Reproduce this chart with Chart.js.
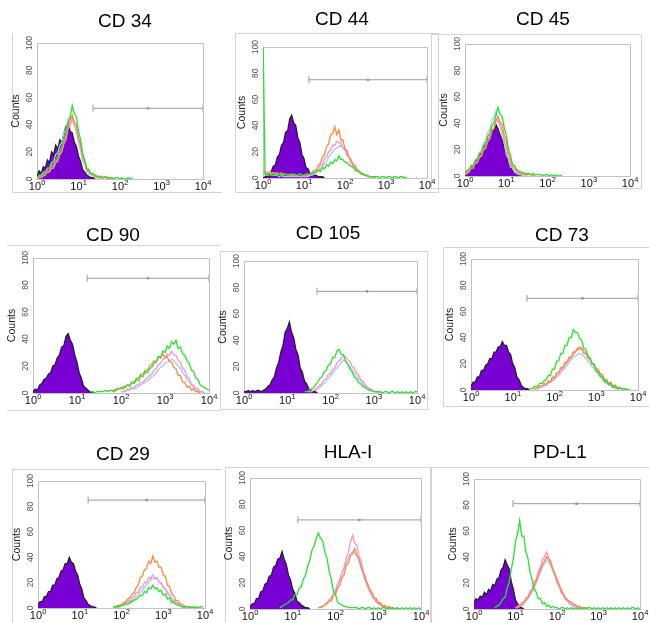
<!DOCTYPE html>
<html>
<head>
<meta charset="utf-8">
<script src="https://cdn.jsdelivr.net/npm/chart.js@4.4.1/dist/chart.umd.min.js"></script>
<style>
  html, body { margin:0; padding:0; background:#fff; }
  #wrap { position:relative; width:649px; height:623px; overflow:hidden; background:#fff; }
  canvas.c { position:absolute; left:0; top:0; }
  .f { position:absolute; border:0 solid #d4d4d4; box-sizing:border-box; }
</style>
</head>
<body>
<div id="wrap">
  <div class="f" style="left:12px;top:33px;width:210px;height:160px;border-left-width:1px;border-bottom-width:1px"></div>
  <div class="f" style="left:235px;top:33px;width:204px;height:160px;border-width:1px"></div>
  <div class="f" style="left:431px;top:34px;width:211px;height:155px;border-width:1px"></div>
  <div class="f" style="left:7px;top:245px;width:213px;height:166px;border-top-width:1px;border-bottom-width:1px"></div>
  <div class="f" style="left:220px;top:251px;width:208px;height:159px;border-width:1px"></div>
  <div class="f" style="left:443px;top:247px;width:210px;height:160px;border-left-width:1px;border-top-width:1px;border-bottom-width:1px"></div>
  <div class="f" style="left:12px;top:469px;width:210px;height:170px;border-left-width:1px;border-top-width:1px"></div>
  <div class="f" style="left:225px;top:467px;width:206px;height:170px;border-left-width:1px;border-top-width:1px;border-right-width:1px"></div>
  <div class="f" style="left:431px;top:467px;width:230px;height:170px;border-left-width:1px;border-top-width:1px"></div>
</div>
<script>
// ---------- shared axes ----------
const BINS = [0,0.05,0.1,0.15,0.2,0.25,0.3,0.35,0.4,0.45,0.5,0.55,0.6,0.65,0.7,0.75,0.8,0.85,0.9,0.95,
  1,1.05,1.1,1.15,1.2,1.25,1.3,1.35,1.4,1.45,1.5,1.55,1.6,1.65,1.7,1.75,1.8,1.85,1.9,1.95,
  2,2.05,2.1,2.15,2.2,2.25,2.3,2.35,2.4,2.45,2.5,2.55,2.6,2.65,2.7,2.75,2.8,2.85,2.9,2.95,
  3,3.05,3.1,3.15,3.2,3.25,3.3,3.35,3.4,3.45,3.5,3.55,3.6,3.65,3.7,3.75,3.8,3.85,3.9,3.95,4];
const X_DECADES = [0,1,2,3,4];
const Y_TICKS = [0,20,40,60,80,100];
const TITLES = ['CD 34','CD 44','CD 45','CD 90','CD 105','CD 73','CD 29','HLA-I','PD-L1'];

// ---------- counts per channel (log10 bins of 0.05) ----------
// CD 34
const cd34_iso    = [2,6,4,9,8,14,12,20,18,25,22,29,27,34,39,41,35,34,27,24,17,13,7,5,3,2,1,1,0];
const cd34_green  = [1,3,2,4,5,7,8,10,11,14,17,21,24,30,35,42,46,54,48,46,35,29,19,14,8,7,4,4,3,2,2,2,1,2,1,1,1,0,1,1,0,1,0,0,1,0,1];
const cd34_orange = [0,1,2,3,4,6,6,9,10,13,14,19,21,28,32,39,43,47,42,40,30,26,17,13,7,6,4,3,2,2,1,1,1,1,0,1,0,1];
const cd34_pink   = [0,1,1,2,3,5,5,8,8,12,13,18,20,26,29,37,39,44,40,37,29,24,15,12,6,5,4,3,2,1,1,1,0];
const cd34_blue   = [1,2,3,5,5,8,8,12,13,18,19,25,27,34,37,44,45,45,39,35,26,21,13,10,5,4,3,2,1,1,0];
const cd34_gate   = [1.35, 52];
// CD 44
const cd44_iso    = [0,1,2,1,5,9,10,16,18,25,27,35,36,45,48,42,40,31,27,18,15,8,7,3,4,2,2,1,1,1,0];
const cd44_green  = [110,3,2,3,2,2,3,2,3,2,2,3,2,2,3,2,2,2,3,2,2,3,3,3,4,4,5,6,5,8,7,10,9,12,11,14,13,17,14,14,12,12,10,9,8,6,5,5,3,3,2,2,1,1,1,1,1,0,1,1,0,1,1,0,1,1,0,1,1,0,1];
const cd44_orange = [5,4,3,4,3,3,4,3,3,4,3,3,2,3,2,3,2,2,3,2,2,2,3,3,4,6,6,10,11,16,18,24,26,33,34,39,33,37,29,29,22,21,15,14,9,9,5,5,3,3,2,2,1,1,1,0];
const cd44_pink   = [6,5,4,5,4,4,3,4,3,3,2,3,2,2,2,2,1,2,1,1,2,1,2,2,3,4,6,6,10,10,15,16,20,21,25,25,28,27,27,23,22,17,16,11,11,7,7,4,4,2,2,1,1,1,0];
const cd44_blue   = [3,3,2,3,2,2,2,2,1,2,1,1,1,1,1,1,1,1,1,1,1,1,1,2,2,3,4,5,7,9,11,13,16,18,20,22,23,24,25,23,21,19,16,13,11,9,7,5,4,3,2,1,1,0];
const cd44_gate   = [1.12, 75];
// CD 45
const cd45_iso    = [1,4,3,7,8,11,12,16,17,22,23,28,29,35,34,39,36,31,28,21,17,10,8,4,3,2,1,1,0];
const cd45_green  = [2,4,5,8,8,12,13,17,18,23,25,30,32,38,40,46,52,47,45,37,31,21,16,9,8,5,4,3,3,2,2,2,1,2,1,1,1,1,0,1,1,0,1,0,1,0,0,1];
const cd45_orange = [1,3,4,6,7,10,11,15,16,21,22,27,29,34,36,42,45,41,39,31,26,17,13,7,7,4,3,2,2,1,1,1,1,0,1];
const cd45_pink   = [1,2,3,6,6,10,10,14,15,20,21,26,28,34,36,41,42,38,35,27,22,14,11,6,5,3,2,2,1,1,0];
const cd45_blue   = [2,3,5,8,8,12,13,18,19,25,27,33,35,42,45,49,43,39,30,25,16,13,7,6,3,2,1,1,0];
// CD 90
const cd90_iso    = [1,3,2,6,7,10,11,14,15,20,21,26,28,34,35,42,44,39,36,28,23,15,11,5,4,2,1,1,0];
const cd90_green  = [1,1,0,1,1,1,1,2,1,2,2,2,3,3,4,3,5,6,5,8,7,10,9,13,12,16,15,18,19,22,23,27,26,31,30,35,33,38,36,39,33,34,29,28,24,22,17,16,11,10,6,5,4,3,2];
const cd90_orange = [1,1,2,3,3,5,4,6,6,8,8,11,11,14,14,17,17,20,21,24,23,27,26,29,26,27,23,23,19,18,13,13,8,8,4,5,2,3,1,1,0];
const cd90_pink   = [1,1,2,3,3,4,4,6,6,8,8,10,11,13,14,17,18,21,22,25,26,29,28,31,28,28,24,23,18,17,12,11,6,6,3,3,1,1,0];
const cd90_blue   = [1,1,1,2,2,3,3,4,5,6,7,8,9,10,12,13,15,17,19,20,22,23,24,25,24,22,20,18,15,13,10,8,6,4,3,2,1,1,0];
const cd90_gate   = [1.23, 85];
// CD 105
const cd105_iso   = [1,1,2,1,2,1,2,2,1,2,3,5,6,10,12,19,23,31,36,46,49,54,46,42,33,29,19,16,9,7,3,2,1,1,0];
const cd105_green = [1,1,2,3,4,6,8,11,12,16,17,21,22,27,27,32,33,29,29,24,22,18,16,12,11,8,7,5,4,3,2,2,1,1,1,1,0,1,1,0,1,1,0,1,0,1,0,1,0,1,0,1,1];
const cd105_pink  = [1,1,2,3,4,6,7,10,11,14,15,18,19,23,24,27,28,28,25,24,20,19,15,14,10,9,6,5,3,3,1,1,1,0];
const cd105_blue  = [1,1,2,2,3,4,6,7,9,11,13,15,17,19,21,23,25,24,22,20,18,15,13,11,9,7,5,4,3,2,1,1,0];
const cd105_gate  = [1.69, 77];
// CD 73
const cd73_iso    = [3,6,6,10,10,15,15,19,20,24,24,29,29,33,33,37,34,34,29,27,20,17,10,8,4,2,1,1,0];
const cd73_green  = [1,1,2,3,3,5,5,7,8,11,11,16,16,22,22,28,28,34,34,40,40,46,44,44,39,38,32,31,26,25,20,19,14,14,10,10,6,7,4,5,2,3,1,2,1,1,1,0,1];
const cd73_orange = [1,1,2,3,3,5,4,7,6,10,9,13,13,17,17,21,21,25,25,29,29,32,31,32,28,28,24,24,20,20,16,16,12,12,8,8,5,6,3,4,2,2,1,1,0];
const cd73_pink   = [1,1,1,2,3,3,4,5,6,8,9,11,13,15,17,19,21,23,25,27,29,31,33,32,30,28,26,23,21,19,16,14,12,10,8,6,5,4,3,2,2,1,1,0];
const cd73_blue   = [1,1,1,2,2,3,4,5,6,7,8,10,11,13,15,17,19,21,23,25,26,27,28,27,26,24,22,20,18,16,14,12,10,8,6,5,4,3,2,1,1,0];
const cd73_gate   = [1.34, 70];
// CD 29
const cd29_iso    = [3,5,5,9,9,13,13,18,18,23,24,29,30,35,35,40,36,35,29,26,19,15,8,6,3,2,1,1,0];
const cd29_orange = [1,1,2,2,3,4,5,7,8,11,12,16,18,24,25,30,31,37,35,41,36,37,32,32,26,25,18,17,11,10,6,6,3,3,2,1,1,1,0,1,0];
const cd29_pink   = [1,1,1,2,2,3,4,6,5,8,9,12,12,16,16,20,20,24,23,26,23,24,20,20,16,15,11,10,6,6,3,4,2,1,1,0];
const cd29_green  = [1,1,1,1,2,2,3,3,4,5,6,7,8,10,10,13,12,16,15,18,15,16,13,14,10,11,7,8,4,5,3,2,2,1,1,1,1,0,1,0,1,0,1,1];
const cd29_blue   = [1,1,1,2,2,3,3,4,5,6,7,9,10,12,14,16,18,20,22,23,24,23,21,19,17,15,13,10,8,6,5,3,2,1,1,0];
const cd29_gate   = [1.2, 85];
// HLA-I
const hla_iso     = [2,4,4,8,8,13,14,19,20,25,26,32,33,38,39,44,38,34,26,22,15,12,6,5,3,2,1,1,0];
const hla_green   = [1,2,3,4,5,7,7,11,11,16,17,23,26,33,37,45,48,54,58,54,52,44,39,29,23,14,11,5,4,3,2,2,1,1,1,1,1,0,1,1,0,1,1,0,1,0,1,0,1,1,0,1,0,1,0,1,0,1,0,1,0,1,0,1,0,1,0];
const hla_pink    = [1,1,2,3,4,7,7,12,13,19,21,28,31,39,43,51,56,50,49,40,37,28,25,17,16,10,9,5,5,3,2,2,1,1,1,0];
const hla_orange  = [1,1,2,3,4,6,6,10,11,16,18,24,26,33,35,41,42,46,41,39,32,29,22,20,14,13,8,8,4,5,2,3,1,2,1,1,0,1];
const hla_blue    = [1,2,2,3,5,7,9,12,15,19,23,27,31,35,39,42,44,43,40,36,31,26,21,17,13,10,8,6,4,3,2,1,1,0];
const hla_gate    = [1.12, 68];
// PD-L1
const pdl1_iso    = [5,8,7,10,9,13,11,15,14,19,18,23,24,30,32,38,34,31,21,15,7,4,2,1,0];
const pdl1_green  = [1,2,3,5,8,9,16,21,31,39,52,58,68,56,56,44,39,28,23,15,13,8,8,4,5,2,3,1,2,1,1,0,1,1,0,1,0,1,0,1,0,1,0,1,0,1,1,0,1,0,1,0,1,0,1,0,1,0,1,0,1,0,1,0,1,0,1,1,0,1,0];
const pdl1_pink   = [1,2,3,5,5,9,9,14,15,21,23,29,32,38,40,44,39,37,30,27,20,18,12,11,7,7,4,5,2,3,1,1,0];
const pdl1_orange = [1,1,2,3,5,7,9,12,15,18,22,26,30,34,37,40,38,35,31,27,23,19,15,12,9,7,6,5,4,3,2,2,1,1,1,0];
const pdl1_blue   = [1,1,2,3,4,6,8,10,13,16,20,24,28,32,35,37,36,33,29,25,21,17,14,11,8,6,4,3,2,1,1,0];
const pdl1_gate   = [0.94, 81];

// ---------- panel assembly: [values, first bin] ----------
const PANELS = [
  { iso:[cd34_iso,0],  green:[cd34_green,0],  orange:[cd34_orange,0],  pink:[cd34_pink,0],  blue:[cd34_blue,0],  gate:cd34_gate },
  { iso:[cd44_iso,0],  green:[cd44_green,0],  orange:[cd44_orange,0],  pink:[cd44_pink,0],  blue:[cd44_blue,0],  gate:cd44_gate },
  { iso:[cd45_iso,0],  green:[cd45_green,0],  orange:[cd45_orange,0],  pink:[cd45_pink,0],  blue:[cd45_blue,0],  gate:null },
  { iso:[cd90_iso,0],  green:[cd90_green,26], orange:[cd90_orange,36], pink:[cd90_pink,40], blue:[cd90_blue,40], gate:cd90_gate },
  { iso:[cd105_iso,0], green:[cd105_green,28], orange:null,            pink:[cd105_pink,30], blue:[cd105_blue,30], gate:cd105_gate },
  { iso:[cd73_iso,0],  green:[cd73_green,28], orange:[cd73_orange,30], pink:[cd73_pink,30], blue:[cd73_blue,30], gate:cd73_gate },
  { iso:[cd29_iso,0],  green:[cd29_green,36], orange:[cd29_orange,36], pink:[cd29_pink,36], blue:[cd29_blue,36], gate:cd29_gate },
  { iso:[hla_iso,0],   green:[hla_green,14],  orange:[hla_orange,32],  pink:[hla_pink,32],  blue:[hla_blue,32],  gate:hla_gate },
  { iso:[pdl1_iso,0],  green:[pdl1_green,10], orange:[pdl1_orange,20], pink:[pdl1_pink,20], blue:[pdl1_blue,20], gate:pdl1_gate }
];

// ---------- layout (page pixels): plot box l,t,r,b and title centre ----------
const LAYOUT = [
  { box:[37,43,203,179],  title:[125,22] },
  { box:[263,47,427,178], title:[342,20] },
  { box:[465,44,630,176], title:[543,20] },
  { box:[33,258,209,393], title:[113,236] },
  { box:[244,261,417,393],title:[328,234] },
  { box:[471,259,638,390],title:[562,236] },
  { box:[38,481,205,608], title:[123,455] },
  { box:[250,478,421,609],title:[348,453] },
  { box:[474,479,640,609],title:[560,453] }
];

const W = 649, H = 623, YW = 30, XH = 20;
const COL = { iso:'#7800d2', isoEdge:'rgba(25,25,25,0.95)', green:'#22e62a', orange:'#ff8a3c', pink:'#ff8fd2', blue:'#a9c8ee', gate:'#9a9a9a', box:'#c2c2c2' };
const FONT = '"Liberation Sans", Arial, Helvetica, sans-serif';

function pts(s){ return s[0].map((v,i)=>({x:BINS[s[1]+i], y:v})); }

const decor = {
  id:'decor',
  afterDraw(chart){
    const {ctx, chartArea:a, scales:{x,y}} = chart;
    const idx = chart.options.plugins.decor.idx;
    ctx.save();
    ctx.strokeStyle = COL.box; ctx.lineWidth = 1;
    ctx.beginPath();
    ctx.moveTo(Math.round(a.left)+0.5, Math.round(a.top)+0.5);
    ctx.lineTo(Math.round(a.right)+0.5, Math.round(a.top)+0.5);
    ctx.lineTo(Math.round(a.right)+0.5, Math.round(a.bottom)+0.5);
    ctx.stroke();
    ctx.fillStyle = '#000'; ctx.font = '19px ' + FONT;
    ctx.textAlign = 'center'; ctx.textBaseline = 'middle';
    const t = LAYOUT[idx].title;
    ctx.fillText(TITLES[idx], t[0], t[1]);
    ctx.fillStyle = '#555'; ctx.font = '8.5px ' + FONT;
    Y_TICKS.forEach(v=>{
      const py = y.getPixelForValue(v);
      ctx.save(); ctx.translate(a.left - 7, py); ctx.rotate(-Math.PI/2);
      ctx.textAlign='center'; ctx.textBaseline='middle';
      ctx.fillText(String(v), 0, 0); ctx.restore();
    });
    ctx.save(); ctx.translate(a.left - 21, (a.top + a.bottom)/2); ctx.rotate(-Math.PI/2);
    ctx.fillStyle = '#222'; ctx.font = '10.5px ' + FONT; ctx.textAlign='center'; ctx.textBaseline='middle';
    ctx.fillText('Counts', 0, 0); ctx.restore();
    ctx.fillStyle = '#111'; ctx.textBaseline = 'alphabetic'; ctx.textAlign = 'left';
    X_DECADES.forEach(d=>{
      const px = x.getPixelForValue(d);
      ctx.font = '11px ' + FONT; const w1 = ctx.measureText('10').width;
      ctx.font = '7.5px ' + FONT;  const w2 = ctx.measureText(String(d)).width;
      const x0 = px - (w1 + w2)/2;
      ctx.font = '11px ' + FONT; ctx.fillText('10', x0, a.bottom + 11);
      ctx.font = '7.5px ' + FONT;  ctx.fillText(String(d), x0 + w1 + 0.3, a.bottom + 6);
    });
    ctx.restore();
  }
};

const wrap = document.getElementById('wrap');
PANELS.forEach((p, i)=>{
  const cv = document.createElement('canvas');
  cv.className = 'c'; cv.width = W; cv.height = H;
  cv.style.width = W + 'px'; cv.style.height = H + 'px';
  wrap.appendChild(cv);
  const b = LAYOUT[i].box;
  const ds = [];
  if (p.gate) {
    const g0 = p.gate[0], gy = p.gate[1];
    ds.push({ data:[{x:g0,y:gy},{x:(g0+4)/2,y:gy},{x:4,y:gy}], borderColor:COL.gate, borderWidth:1,
      pointStyle:['line','rect','line'], pointRotation:[90,0,90], pointRadius:[3.5,1.2,3.5],
      pointBorderColor:COL.gate, pointBackgroundColor:COL.gate, pointBorderWidth:1, fill:false, clip:false });
  }
  const line = (s, c) => ({ data:pts(s), borderColor:c, borderWidth:1.3, pointRadius:0, fill:false, tension:0 });
  ds.push(line(p.green, COL.green));
  if (p.orange) ds.push(line(p.orange, COL.orange));
  ds.push(line(p.pink, COL.pink));
  ds.push(line(p.blue, COL.blue));
  ds.push({ data:pts(p.iso), borderColor:COL.isoEdge, borderWidth:1.2, backgroundColor:COL.iso, pointRadius:0, fill:'origin', tension:0 });

  new Chart(cv, {
    type:'line',
    data:{ datasets: ds },
    options:{
      responsive:false, animation:false, events:[],
      layout:{ padding:{ left:b[0]-YW, top:b[1], right:W-b[2], bottom:H-b[3]-XH } },
      plugins:{ legend:{display:false}, tooltip:{enabled:false}, title:{display:false}, decor:{ idx:i } },
      scales:{
        x:{ type:'linear', min:0, max:4, grid:{display:false, drawTicks:false}, border:{color:COL.box, width:1},
            ticks:{display:false}, afterFit:s=>{ s.height = XH; } },
        y:{ type:'linear', min:0, max:100, grid:{display:false, drawTicks:false}, border:{color:COL.box, width:1},
            ticks:{display:false}, afterFit:s=>{ s.width = YW; } }
      }
    },
    plugins:[decor]
  });
});
</script>
</body>
</html>
